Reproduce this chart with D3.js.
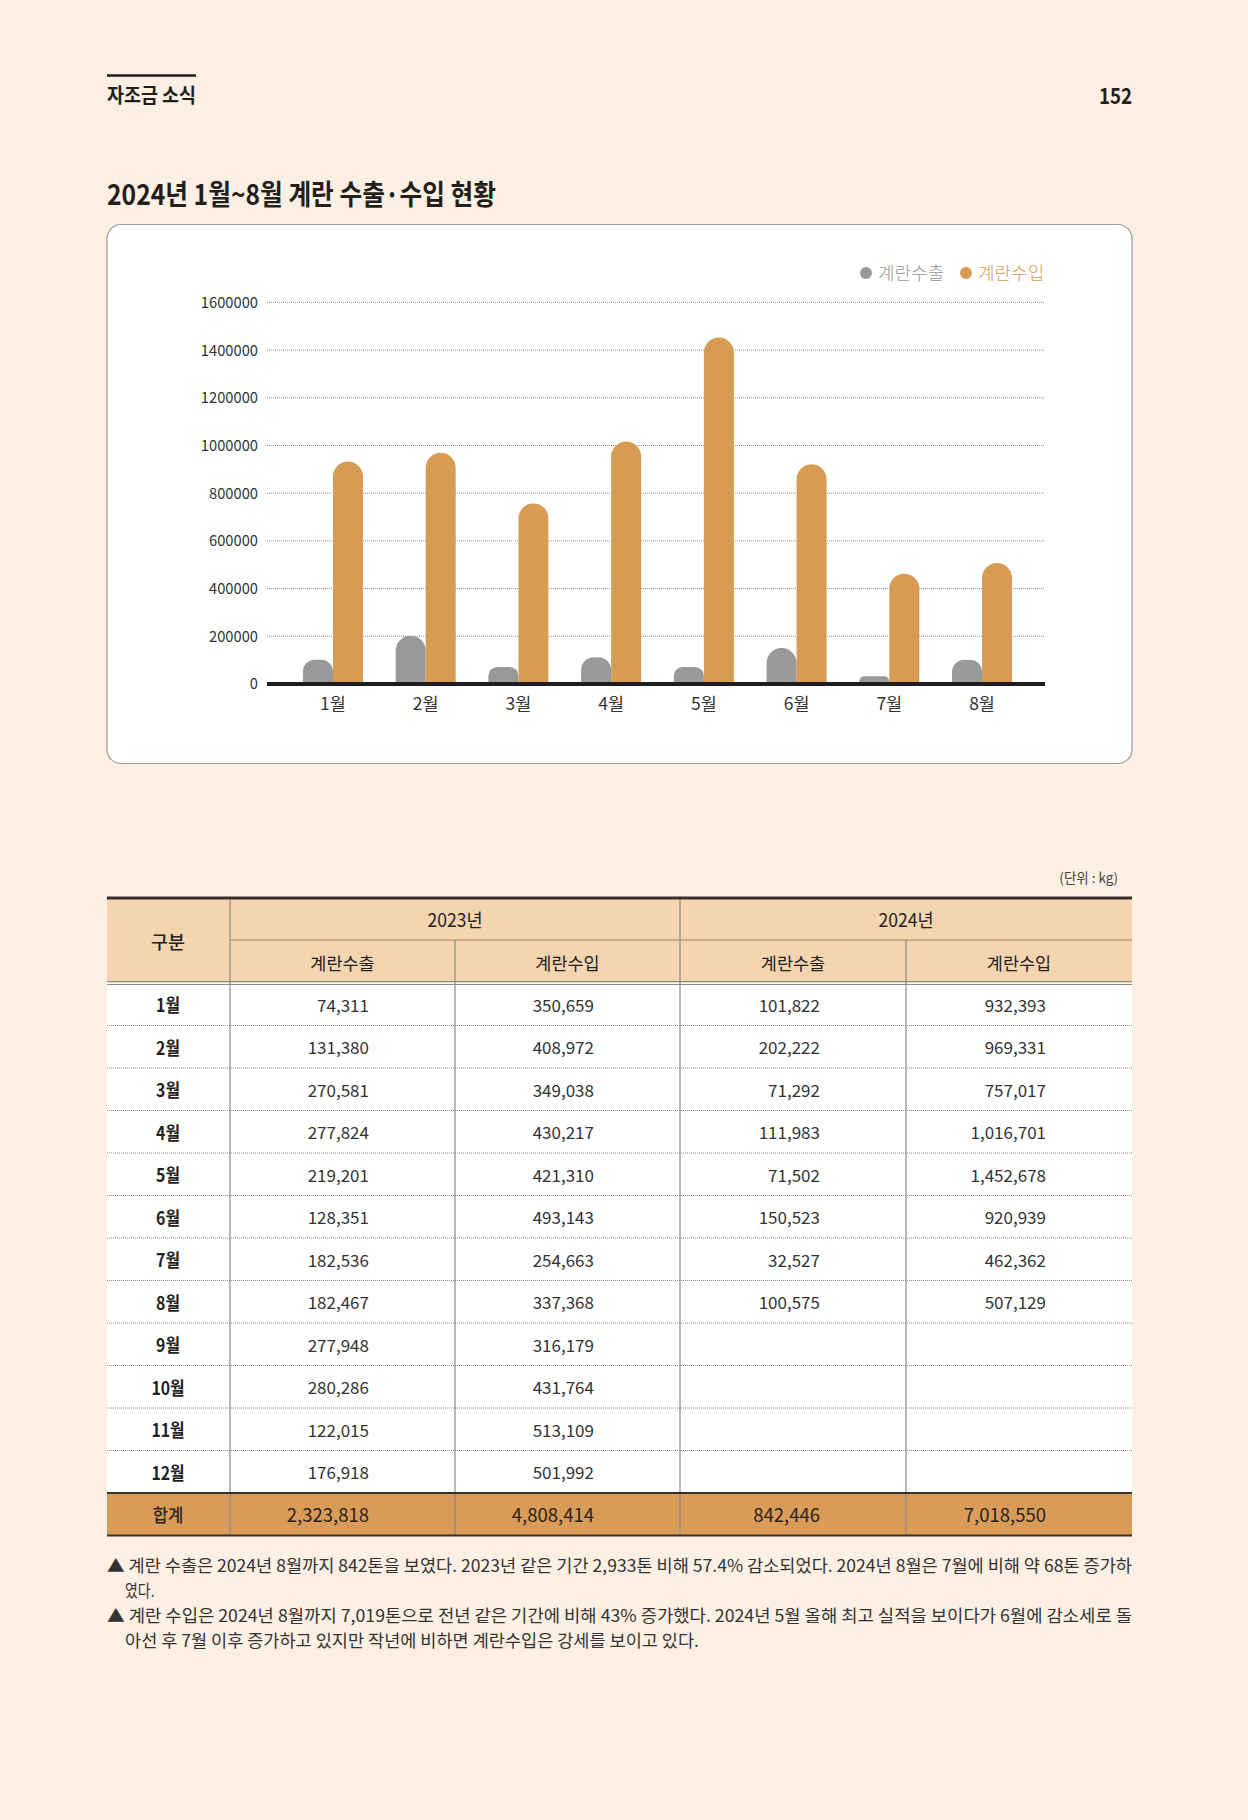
<!DOCTYPE html>
<html><head><meta charset="utf-8">
<script src="https://cdn.jsdelivr.net/npm/d3@7"></script>
<style>
html,body{margin:0;padding:0;background:#FCEFE3;}
svg{display:block;}
text{font-family:"Noto Sans CJK KR","Noto Sans",sans-serif;}
</style></head>
<body>
<svg id="c" width="1248" height="1820"></svg>
<script>
// ---------- data ----------
const months = ["1월","2월","3월","4월","5월","6월","7월","8월"];
const tableMonths = ["1월","2월","3월","4월","5월","6월","7월","8월","9월","10월","11월","12월"];
const seriesNames = ["계란수출","계란수입"];
const export2024 = [101822,202222,71292,111983,71502,150523,32527,100575];
const import2024 = [932393,969331,757017,1016701,1452678,920939,462362,507129];
const export2023 = [74311,131380,270581,277824,219201,128351,182536,182467,277948,280286,122015,176918];
const import2023 = [350659,408972,349038,430217,421310,493143,254663,337368,316179,431764,513109,501992];
const totals = [2323818,4808414,842446,7018550];
const yTicks = [0,200000,400000,600000,800000,1000000,1200000,1400000,1600000];
const notes = [
  "▲ 계란 수출은 2024년 8월까지 842톤을 보였다. 2023년 같은 기간 2,933톤 비해 57.4% 감소되었다. 2024년 8월은 7월에 비해 약 68톤 증가하",
  "였다.",
  "▲ 계란 수입은 2024년 8월까지 7,019톤으로 전년 같은 기간에 비해 43% 증가했다. 2024년 5월 올해 최고 실적을 보이다가 6월에 감소세로 돌",
  "아선 후 7월 이후 증가하고 있지만 작년에 비하면 계란수입은 강세를 보이고 있다."
];

const C = {bg:"#FCEFE3", orange:"#D89B53", gray:"#999999", peach:"#F4D5B0", total:"#D89B58", dark:"#231F1C"};
const svg = d3.select("#c");
svg.append("rect").attr("width",1248).attr("height",1820).attr("fill",C.bg);

function txt(x,y,s,o){
  o=o||{};
  const g=svg.append("g").attr("transform",`translate(${x},${y}) scale(${o.sx||1},1)`);
  const t=g.append("text").text(s).attr("x",0).attr("y",0)
    .attr("text-anchor",o.anchor||"start").attr("dominant-baseline","central")
    .attr("font-size",o.size||16).attr("font-weight",o.weight||400).attr("fill",o.fill||"#222");
  if(o.len){t.attr("textLength",o.len).attr("lengthAdjust","spacingAndGlyphs");}
  return t;
}

// ---------- header ----------
svg.append("line").attr("x1",107).attr("x2",196).attr("y1",75.5).attr("y2",75.5).attr("stroke",C.dark).attr("stroke-width",2.5);
txt(107,94,"자조금 소식",{size:20,weight:700,fill:C.dark,len:89});
txt(1132,94,"152",{size:22,weight:700,anchor:"end",sx:0.85,fill:C.dark});
txt(107,193,"2024년 1월~8월 계란 수출·수입 현황",{size:28,weight:700,fill:C.dark,len:389});

// ---------- chart card ----------
svg.append("rect").attr("x",107).attr("y",224.5).attr("width",1025).attr("height",539).attr("rx",14)
  .attr("fill","#ffffff").attr("stroke","#9a9a9a").attr("stroke-width",1.2);

const y = d3.scaleLinear().domain([0,1600000]).range([684,302.4]);
const x0 = d3.scaleBand().domain(months).range([286.6,1028.4]).padding(0);
const bw = 30;
const x1 = d3.scaleBand().domain(seriesNames).range([x0.bandwidth()/2-bw, x0.bandwidth()/2+bw]);

// gridlines
const gl = svg.append("g");
gl.selectAll("line").data(yTicks.filter(d=>d>0)).join("line")
  .attr("x1",267).attr("x2",1045).attr("y1",d=>y(d)).attr("y2",d=>y(d))
  .attr("stroke","#8f8f8f").attr("stroke-width",1).attr("stroke-dasharray","1,1");

// y axis
const ya = svg.append("g").attr("transform","translate(258,0)")
  .call(d3.axisLeft(y).tickValues(yTicks).tickFormat(d3.format("d")).tickSize(0).tickPadding(0));
ya.select(".domain").remove();
ya.selectAll("text").attr("font-size",15.5).attr("fill","#333").attr("font-family",'"Noto Sans CJK KR"')
  .attr("transform","scale(0.95,1)").attr("x",0);

// bars
function barPath(xl,w,top,bottom){
  const h=bottom-top; const r=Math.min(w/2, 0.4*h+2);
  return `M${xl},${bottom} L${xl},${top+r} A${r},${r} 0 0 1 ${xl+r},${top} L${xl+w-r},${top} A${r},${r} 0 0 1 ${xl+w},${top+r} L${xl+w},${bottom} Z`;
}
const barData=[];
months.forEach((m,i)=>{
  barData.push({m,s:seriesNames[0],v:export2024[i]});
  barData.push({m,s:seriesNames[1],v:import2024[i]});
});
svg.append("g").selectAll("path").data(barData).join("path")
  .attr("d",d=>barPath(x0(d.m)+x1(d.s),x1.bandwidth(),y(d.v),y(0)))
  .attr("fill",d=>d.s===seriesNames[0]?C.gray:C.orange);

// baseline
svg.append("line").attr("x1",267).attr("x2",1045).attr("y1",684).attr("y2",684).attr("stroke","#1e1e1e").attr("stroke-width",4);

// x axis
const xa = svg.append("g").attr("transform","translate(0,684)")
  .call(d3.axisBottom(x0).tickSize(0).tickPadding(10));
xa.select(".domain").remove();
xa.selectAll("text").attr("font-size",17.5).attr("fill","#333").attr("font-family",'"Noto Sans CJK KR"').attr("dy","0.9em");

// legend
svg.append("circle").attr("cx",866).attr("cy",273).attr("r",6).attr("fill",C.gray);
txt(878,272,seriesNames[0],{size:18,weight:300,fill:"#999"});
svg.append("circle").attr("cx",966).attr("cy",273).attr("r",6).attr("fill",C.orange);
txt(978,272,seriesNames[1],{size:18,weight:300,fill:C.orange});

// ---------- table ----------
txt(1118,877,"(단위 : kg)",{size:13.5,anchor:"end",fill:"#444"});
const colX=[107,230,455,680,906,1132];
const tTop=898, hMid=940, hBot=983, rowH=42.5;
const rowTop=i=>hBot+rowH*i;
const totTop=rowTop(12), totBot=totTop+rowH;
svg.append("rect").attr("x",107).attr("y",tTop).attr("width",1025).attr("height",hBot-tTop).attr("fill",C.peach);
svg.append("rect").attr("x",107).attr("y",hBot).attr("width",1025).attr("height",totTop-hBot).attr("fill","#ffffff");
svg.append("rect").attr("x",107).attr("y",totTop).attr("width",1025).attr("height",rowH).attr("fill",C.total);

svg.append("line").attr("x1",230).attr("x2",1132).attr("y1",hMid).attr("y2",hMid).attr("stroke","#9b8a78").attr("stroke-width",1);
svg.append("g").selectAll("line").data(d3.range(1,12)).join("line")
  .attr("x1",107).attr("x2",1132).attr("y1",i=>rowTop(i)).attr("y2",i=>rowTop(i))
  .attr("stroke","#8a8a8a").attr("stroke-width",1).attr("stroke-dasharray","1,1");
[230,680].forEach(x=>svg.append("line").attr("x1",x).attr("x2",x).attr("y1",tTop).attr("y2",totBot).attr("stroke","#8a8a8a").attr("stroke-width",1.2));
[455,906].forEach(x=>svg.append("line").attr("x1",x).attr("x2",x).attr("y1",hMid).attr("y2",totBot).attr("stroke","#8a8a8a").attr("stroke-width",1.2));
svg.append("line").attr("x1",107).attr("x2",1132).attr("y1",hBot-1.5).attr("y2",hBot-1.5).attr("stroke","#8a8a8a").attr("stroke-width",1);
svg.append("line").attr("x1",107).attr("x2",1132).attr("y1",hBot+1.5).attr("y2",hBot+1.5).attr("stroke","#8a8a8a").attr("stroke-width",1);
svg.append("line").attr("x1",107).attr("x2",1132).attr("y1",tTop).attr("y2",tTop).attr("stroke","#3a302a").attr("stroke-width",3);
svg.append("line").attr("x1",107).attr("x2",1132).attr("y1",totTop).attr("y2",totTop).attr("stroke","#3a302a").attr("stroke-width",2);
svg.append("line").attr("x1",107).attr("x2",1132).attr("y1",totBot).attr("y2",totBot).attr("stroke","#3a302a").attr("stroke-width",2);

// header text
txt(168,hBot-(hBot-tTop)/2,"구분",{size:18.5,weight:500,anchor:"middle"});
txt((230+680)/2,919,"2023년",{size:18.5,weight:400,anchor:"middle",sx:0.95});
txt((680+1132)/2,919,"2024년",{size:18.5,weight:400,anchor:"middle",sx:0.95});
for(let c=1;c<5;c++){
  txt((colX[c]+colX[c+1])/2,962,seriesNames[(c-1)%2],{size:17.5,weight:400,anchor:"middle"});
}
const fmt=d3.format(",");
const cols=[export2023,import2023,export2024,import2024];
tableMonths.forEach((m,i)=>{
  const cy=rowTop(i)+rowH/2;
  txt(168,cy,m,{size:18,weight:700,anchor:"middle",sx:0.88});
  cols.forEach((arr,c)=>{
    if(arr[i]!==undefined) txt(colX[c+2]-86,cy,fmt(arr[i]),{size:17,weight:400,anchor:"end",fill:"#333"});
  });
});
const tcy=totTop+rowH/2;
txt(168,tcy,"합계",{size:18.5,weight:500,anchor:"middle",fill:"#2a211b",sx:0.9});
totals.forEach((v,c)=>txt(colX[c+2]-86,tcy,fmt(v),{size:18.5,weight:400,anchor:"end",fill:"#2a211b"}));

// ---------- notes ----------
txt(107,1564,notes[0],{size:17,fill:"#333",len:1025});
txt(125,1589,notes[1],{size:17,fill:"#333",sx:0.82});
txt(107,1614,notes[2],{size:17,fill:"#333",len:1025});
txt(125,1639,notes[3],{size:17,fill:"#333",len:574});
</script>
</body></html>
